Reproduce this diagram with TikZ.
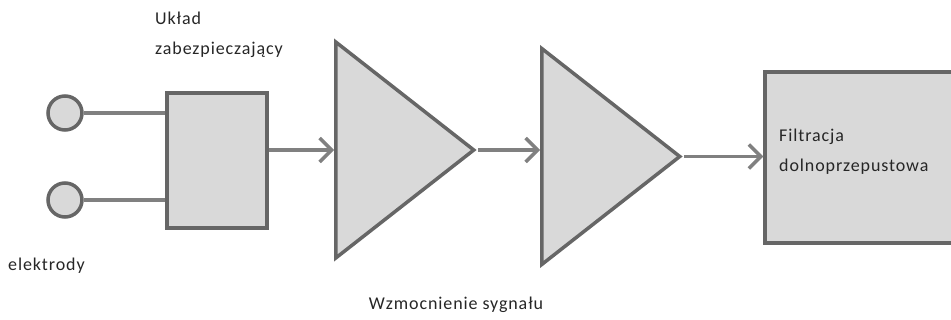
\documentclass[tikz,border=0pt]{standalone}
\usepackage{fontspec}
\setmainfont{Carlito}[LetterSpace=5]
\usetikzlibrary{arrows.meta,shapes.geometric,positioning}
\definecolor{blockfill}{HTML}{D9D9D9}
\definecolor{blockline}{HTML}{666666}
\definecolor{wire}{HTML}{808080}
\definecolor{txt}{HTML}{262626}
\tikzstyle{blk}=[draw=blockline,fill=blockfill,line width=3.5pt,inner sep=0]
\tikzstyle{elec}=[blk,circle,minimum size=34pt]
\tikzstyle{amp}=[blk,isosceles triangle,isosceles triangle stretches,
                 minimum width=216pt,minimum height=138pt,anchor=west]
\tikzstyle{sig}=[draw=wire,line width=3.5pt,-{Straight Barb[length=12pt,width=24pt]}]
\tikzstyle{lead}=[draw=wire,line width=3.5pt]
\tikzstyle{lbl}=[text=txt,font=\fontsize{18}{30}\selectfont,align=left,inner sep=0]

\begin{document}
\begin{tikzpicture}[x=1pt,y=-1pt]
\useasboundingbox (0,0) rectangle (951,320);

\node[elec] (e1) at (65,113) {};
\node[elec] (e2) at (65,200) {};
\node[blk,minimum width=100pt,minimum height=135pt] (prot) at (217,160.5) {};
\node[amp] (amp1) at (334,150) {};
\node[amp] (amp2) at (540,156.5) {};
\node[blk,minimum width=220pt,minimum height=171pt] (filt) at (875,157.5) {};

% base anchor of a two-line label sits on its last line
\node[lbl,anchor=base west] (protlbl) at (155,55) {Układ\\zabezpieczający};
\node[lbl,anchor=base west] (eleclbl) at (8,271) {elektrody};
\node[lbl,anchor=base] (amplbl) at (456,310) {Wzmocnienie sygnału};
\node[lbl,anchor=base west] (filtlbl) at (779,172) {Filtracja\\dolnoprzepustowa};

\path[lead] (e1) -- (e1 -| prot.west) (e2) -- (e2 -| prot.west);
\path[sig] (prot.east |- amp1.west) -- (amp1.west);
\path[sig] (amp1.apex) -- (amp1.apex -| amp2.west);
\path[sig] (amp2.apex) -- (amp2.apex -| filt.west);
\end{tikzpicture}
\end{document}
